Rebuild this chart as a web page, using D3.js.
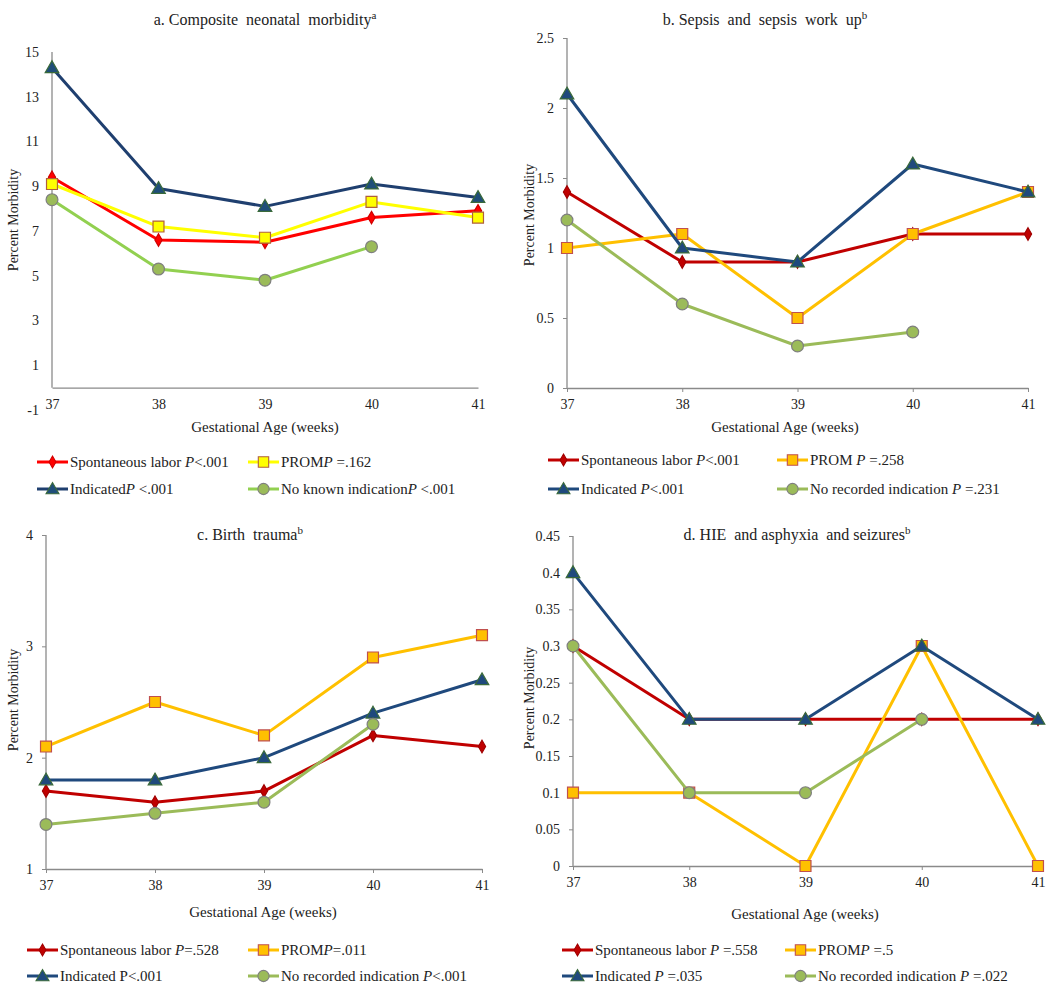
<!DOCTYPE html>
<html><head><meta charset="utf-8">
<script src="https://cdn.jsdelivr.net/npm/d3@7"></script>
<style>
body{margin:0;background:#fff}
svg{display:block}
text{font-family:"Liberation Serif","Times New Roman",Times,serif;fill:#222}
</style>
</head><body><svg id="chart" width="1050" height="995"></svg>
<script>
// ---------- DATA ----------
const weeks = [37, 38, 39, 40, 41];

// a. Composite neonatal morbidity
const aSpontaneous = [9.4, 6.6, 6.5, 7.6, 7.9];
const aProm        = [9.1, 7.2, 6.7, 8.3, 7.6];
const aIndicated   = [14.3, 8.9, 8.1, 9.1, 8.5];
const aNoIndication= [8.4, 5.3, 4.8, 6.3, null];
const aYTicks = [-1, 1, 3, 5, 7, 9, 11, 13, 15];
const aLegend = ["Spontaneous labor |P|<.001", "PROM|P| =.162", "Indicated|P| <.001", "No known indication|P| <.001"];

// b. Sepsis and sepsis work up
const bSpontaneous = [1.4, 0.9, 0.9, 1.1, 1.1];
const bProm        = [1.0, 1.1, 0.5, 1.1, 1.4];
const bIndicated   = [2.1, 1.0, 0.9, 1.6, 1.4];
const bNoIndication= [1.2, 0.6, 0.3, 0.4, null];
const bYTicks = [0, 0.5, 1, 1.5, 2, 2.5];
const bLegend = ["Spontaneous labor |P|<.001", "PROM |P| =.258", "Indicated |P|<.001", "No recorded indication |P| =.231"];

// c. Birth trauma
const cSpontaneous = [1.7, 1.6, 1.7, 2.2, 2.1];
const cProm        = [2.1, 2.5, 2.2, 2.9, 3.1];
const cIndicated   = [1.8, 1.8, 2.0, 2.4, 2.7];
const cNoIndication= [1.4, 1.5, 1.6, 2.3, null];
const cYTicks = [1, 2, 3, 4];
const cLegend = ["Spontaneous labor |P|=.528", "PROM|P|=.011", "Indicated P<.001", "No recorded indication |P|<.001"];

// d. HIE and asphyxia and seizures
const dSpontaneous = [0.3, 0.2, 0.2, 0.2, 0.2];
const dProm        = [0.1, 0.1, 0.0, 0.3, 0.0];
const dIndicated   = [0.4, 0.2, 0.2, 0.3, 0.2];
const dNoIndication= [0.3, 0.1, 0.1, 0.2, null];
const dYTicks = [0, 0.05, 0.1, 0.15, 0.2, 0.25, 0.3, 0.35, 0.4, 0.45];
const dLegend = ["Spontaneous labor |P| =.558", "PROM|P| =.5", "Indicated |P| =.035", "No recorded indication |P| =.022"];

// ---------- STYLES ----------
const styleA = [
  {line:"#ff0000", fill:"#ff0000", stroke:"#d00000", sym:d3.symbolDiamond, size:45},
  {line:"#ffff00", fill:"#ffff00", stroke:"#b0603a", sym:d3.symbolSquare, size:120},
  {line:"#1f3f6f", fill:"#1f4e79", stroke:"#3a6a3a", sym:d3.symbolTriangle, size:80},
  {line:"#92d050", fill:"#9bbb59", stroke:"#7f7f7f", sym:d3.symbolCircle, size:110}
];
const styleB = [
  {line:"#c00000", fill:"#c00000", stroke:"#a00000", sym:d3.symbolDiamond, size:45},
  {line:"#ffc000", fill:"#ffc000", stroke:"#c0504d", sym:d3.symbolSquare, size:120},
  {line:"#1f497d", fill:"#1f497d", stroke:"#3a6a3a", sym:d3.symbolTriangle, size:80},
  {line:"#9bbb59", fill:"#9bbb59", stroke:"#7f7f7f", sym:d3.symbolCircle, size:110}
];

const panels = [
  {title:"a. Composite  neonatal  morbidity", sup:"a", tx:265, ty:25,
   x0:52, x1:478, yDom:[-1,15], yR:[410,52], axisAt:0, yTicks:aYTicks, yTickSize:0,
   series:[aSpontaneous,aProm,aIndicated,aNoIndication], style:styleA,
   ylabX:13, ylabY:220, xTitleY:432, xTitleX:265,
   legend:aLegend, legX:[37,248], legY:[462,489]},
  {title:"b. Sepsis  and  sepsis  work  up", sup:"b", tx:765, ty:25,
   x0:567, x1:1028, yDom:[0,2.5], yR:[388,38], axisAt:0, yTicks:bYTicks, yTickSize:4,
   series:[bSpontaneous,bProm,bIndicated,bNoIndication], style:styleB,
   ylabX:529, ylabY:215, xTitleY:432, xTitleX:785,
   legend:bLegend, legX:[548,777], legY:[460,489]},
  {title:"c. Birth  trauma", sup:"b", tx:250, ty:540,
   x0:46, x1:482, yDom:[1,4], yR:[869,535], axisAt:1, yTicks:cYTicks, yTickSize:4,
   series:[cSpontaneous,cProm,cIndicated,cNoIndication], style:styleB,
   ylabX:13, ylabY:700, xTitleY:917, xTitleX:263,
   legend:cLegend, legX:[27,248], legY:[950,976]},
  {title:"d. HIE  and asphyxia  and seizures", sup:"b", tx:797, ty:540,
   x0:573, x1:1038, yDom:[0,0.45], yR:[866,536], axisAt:0, yTicks:dYTicks, yTickSize:4,
   series:[dSpontaneous,dProm,dIndicated,dNoIndication], style:styleB,
   ylabX:529, ylabY:698, xTitleY:919, xTitleX:805,
   legend:dLegend, legX:[562,785], legY:[950,976]}
];

const svg = d3.select("#chart");
const AX = "#8a8a8a";
const FONT = '"Liberation Serif","Times New Roman",Times,serif';

function richText(sel, str){
  str.split("|").forEach((p,i)=>{
    sel.append("tspan").attr("font-style", i%2===1 ? "italic" : "normal").text(p);
  });
}

panels.forEach(p=>{
  const g = svg.append("g");
  const x = d3.scaleLinear().domain([37,41]).range([p.x0,p.x1]);
  const y = d3.scaleLinear().domain(p.yDom).range(p.yR);
  const yAxisY0 = y(p.axisAt);

  // y axis
  const yAx = g.append("g").attr("transform",`translate(${p.x0},0)`)
    .call(d3.axisLeft(y).tickValues(p.yTicks).tickSize(p.yTickSize).tickPadding(13 - p.yTickSize)
      .tickFormat(d=>String(d)).tickSizeOuter(0));
  yAx.attr("font-family",FONT);
  yAx.select(".domain").remove();
  yAx.selectAll(".tick line").attr("stroke",AX);
  yAx.selectAll("text").attr("font-size",14).style("font-family",FONT).attr("fill","#222");
  g.append("line").attr("x1",p.x0).attr("x2",p.x0).attr("y1",y(p.yDom[1])).attr("y2",yAxisY0)
    .attr("stroke",AX).attr("stroke-width",1.3);

  // x axis
  const xAx = g.append("g").attr("transform",`translate(0,${yAxisY0})`)
    .call(d3.axisBottom(x).tickValues(weeks).tickSize(p.yTickSize).tickPadding(11 - p.yTickSize)
      .tickFormat(d3.format("d")).tickSizeOuter(0));
  xAx.attr("font-family",FONT);
  xAx.select(".domain").attr("stroke",AX).attr("stroke-width",1.3);
  xAx.selectAll(".tick line").attr("stroke",AX);
  xAx.selectAll("text").attr("font-size",14).style("font-family",FONT).attr("fill","#222");

  // title
  const t = g.append("text").attr("x",p.tx).attr("y",p.ty).attr("text-anchor","middle")
    .attr("font-size",16).style("white-space","pre");
  t.append("tspan").text(p.title);
  t.append("tspan").attr("font-size",11).attr("dy",-6).text(p.sup);

  // y label
  g.append("text").attr("transform",`translate(${p.ylabX},${p.ylabY}) rotate(-90)`)
    .attr("text-anchor","middle").attr("dy","0.35em").attr("font-size",14).text("Percent Morbidity");
  // x title
  g.append("text").attr("x",p.xTitleX).attr("y",p.xTitleY).attr("text-anchor","middle")
    .attr("font-size",15).text("Gestational Age (weeks)");

  // series
  const line = d3.line().defined(d=>d.v!==null).x(d=>x(d.w)).y(d=>y(d.v));
  p.series.forEach((vals,si)=>{
    const st = p.style[si];
    const pts = weeks.map((w,i)=>({w, v: vals[i]}));
    g.append("path").datum(pts).attr("d",line).attr("fill","none")
      .attr("stroke",st.line).attr("stroke-width",3).attr("stroke-linejoin","round");
    g.selectAll(null).data(pts.filter(d=>d.v!==null)).enter().append("path")
      .attr("d",d3.symbol().type(st.sym).size(st.size))
      .attr("transform",d=>`translate(${x(d.w)},${y(d.v) + (st.sym===d3.symbolTriangle?1:0)})`)
      .attr("fill",st.fill).attr("stroke",st.stroke).attr("stroke-width",1.2);
  });

  // legend
  p.legend.forEach((lab,i)=>{
    const col = i%2, row = Math.floor(i/2);
    const lx = p.legX[col], ly = p.legY[row];
    const st = p.style[i];
    g.append("line").attr("x1",lx).attr("x2",lx+31).attr("y1",ly).attr("y2",ly)
      .attr("stroke",st.line).attr("stroke-width",3);
    g.append("path").attr("d",d3.symbol().type(st.sym).size(st.size*0.9))
      .attr("transform",`translate(${lx+15.5},${ly + (st.sym===d3.symbolTriangle?1:0)})`)
      .attr("fill",st.fill).attr("stroke",st.stroke).attr("stroke-width",1.1);
    const tt = g.append("text").attr("x",lx+33).attr("y",ly).attr("dy","0.35em")
      .attr("font-size",15).style("white-space","pre");
    richText(tt, lab);
  });
});
</script>
</body></html>
